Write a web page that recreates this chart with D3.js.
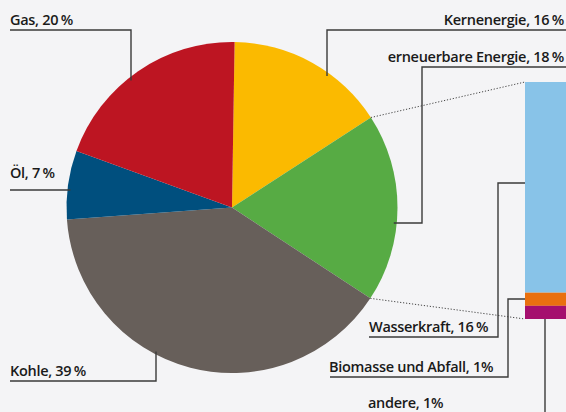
<!DOCTYPE html>
<html>
<head>
<meta charset="utf-8">
<script src="https://cdn.jsdelivr.net/npm/d3@7"></script>
<style>
  body { margin: 0; background: #f4f4f6; }
  svg { display: block; }
  text { font-family: "Open Sans", sans-serif; font-weight: 600; font-size: 14.5px; fill: #1a1a1a; }
</style>
</head>
<body>
<script>
// Primärenergie-Mix
var categories = ["Kernenergie", "erneuerbare Energie", "Kohle", "Öl", "Gas"];
var shareLabels = [16, 18, 39, 7, 20];
// slice sizes as drawn in the picture (unrounded)
var shares = [15.6, 18.4, 39.6, 6.7, 19.7];
var colors = ["#fbba00", "#57ab44", "#675f5a", "#004f7e", "#bd1522"];

// Aufteilung der Erneuerbaren
var subCategories = ["Wasserkraft", "Biomasse und Abfall", "andere"];
var subShares = [16, 1, 1];
var subColors = ["#88c3e8", "#e9700f", "#a50f6e"];

var width = 566, height = 412;
var cx = 232, cy = 207.5, r = 165.5;
var start = 0.9 * Math.PI / 180;

var svg = d3.select("body").append("svg")
    .attr("width", width)
    .attr("height", height);

var pie = d3.pie().sort(null).value(function(d) { return d; })
    .startAngle(start).endAngle(start + 2 * Math.PI);
var arcs = pie(shares);
var arc = d3.arc().innerRadius(0).outerRadius(r);

var g = svg.append("g").attr("transform", "translate(" + cx + "," + cy + ")");
g.selectAll("path")
  .data(arcs)
  .enter().append("path")
    .attr("d", arc)
    .attr("fill", function(d, i) { return colors[i]; });

// stacked bar for the renewables
var barX = 525, barW = 44, barTop = 82, barBottom = 319;
var y = d3.scaleLinear().domain([0, d3.sum(subShares)]).range([barTop, barBottom]);
var stack = d3.cumsum(subShares);
svg.selectAll("rect.sub")
  .data(subShares)
  .enter().append("rect")
    .attr("class", "sub")
    .attr("x", barX)
    .attr("width", barW)
    .attr("y", function(d, i) { return y(stack[i] - d); })
    .attr("height", function(d) { return y(d) - y(0); })
    .attr("fill", function(d, i) { return subColors[i]; });

// dotted connectors from the green slice to the bar
function onCircle(a) { return [cx + r * Math.sin(a), cy - r * Math.cos(a)]; }
var ren = arcs[1];
[[onCircle(ren.startAngle), [barX, barTop]], [onCircle(ren.endAngle), [barX, barBottom]]].forEach(function(p) {
  svg.append("line")
    .attr("x1", p[0][0]).attr("y1", p[0][1])
    .attr("x2", p[1][0]).attr("y2", p[1][1])
    .attr("stroke", "#444")
    .attr("stroke-width", 1)
    .attr("stroke-dasharray", "1.2,1.8");
});

function yTop(x) { return cy - Math.sqrt(r * r - (x - cx) * (x - cx)); }
function yBot(x) { return cy + Math.sqrt(r * r - (x - cx) * (x - cx)); }
function xRight(yy) { return cx + Math.sqrt(r * r - (yy - cy) * (yy - cy)); }
function xLeft(yy) { return cx - Math.sqrt(r * r - (yy - cy) * (yy - cy)); }

// labels with leader lines (gap = small space before the % sign)
var labels = [
  { name: categories[4], v: shareLabels[4], gap: 2.5, x: 10, ty: 25, anchor: "start",
    pts: [[10, 30], [131, 30], [131, yTop(131) + 4]] },
  { name: categories[0], v: shareLabels[0], gap: 2.5, x: 564, ty: 25, anchor: "end",
    pts: [[566, 30], [327, 30], [327, yTop(327) + 4]] },
  { name: categories[1], v: shareLabels[1], gap: 2.5, x: 564, ty: 62, anchor: "end",
    pts: [[566, 67], [422, 67], [422, 223], [xRight(223) - 3, 223]] },
  { name: categories[3], v: shareLabels[3], gap: 2.5, x: 10, ty: 178, anchor: "start",
    pts: [[10, 190], [xLeft(190) + 3, 190]] },
  { name: categories[2], v: shareLabels[2], gap: 2.5, x: 10, ty: 376, anchor: "start",
    pts: [[10, 381], [156, 381], [156, yBot(156) - 3]] },
  { name: subCategories[0], v: subShares[0], gap: 2.5, x: 369, ty: 332, anchor: "start",
    pts: [[369, 337], [498, 337], [498, 183], [barX, 183]] },
  { name: subCategories[1], v: subShares[1], gap: 0, x: 329, ty: 372, anchor: "start",
    pts: [[330, 377], [508, 377], [508, 299], [barX, 299]] },
  { name: subCategories[2], v: subShares[2], gap: 0, x: 368, ty: 408, anchor: "start",
    pts: [[545, barBottom], [545, 420]] }
];

var line = d3.line();
labels.forEach(function(l) {
  svg.append("path")
    .attr("d", line(l.pts))
    .attr("fill", "none")
    .attr("stroke", "#3a3a3a")
    .attr("stroke-width", 1.4);
  var t = svg.append("text")
    .attr("x", l.x)
    .attr("y", l.ty)
    .attr("text-anchor", l.anchor)
    .attr("letter-spacing", "-0.3");
  t.append("tspan").text(l.name + ", " + l.v);
  t.append("tspan").attr("dx", l.gap).text("%");
});
</script>
</body>
</html>
